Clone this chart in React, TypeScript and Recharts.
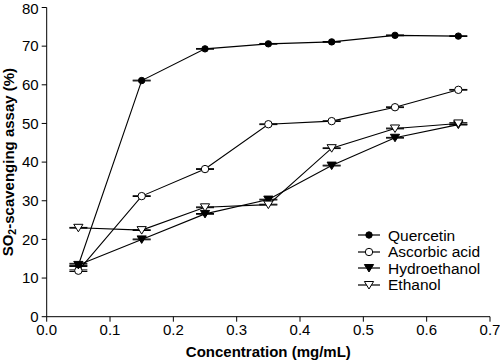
import React from "react";
import { LineChart, Line, XAxis, YAxis, ErrorBar } from "recharts";

const concentrations = [0.05, 0.15, 0.25, 0.35, 0.45, 0.55, 0.65];
const quercetin = [13.3, 61.1, 69.3, 70.6, 71.1, 72.8, 72.6];
const quercetinErr = [0.1, 0.1, 0.1, 0.1, 0.1, 0.1, 0.1];
const ascorbic = [11.9, 31.2, 38.2, 49.8, 50.6, 54.2, 58.7];
const ascorbicErr = [0.2, 0.1, 0.1, 0.1, 0.1, 0.1, 0.1];
const hydroethanol = [13.4, 20.0, 26.6, 30.3, 39.1, 46.3, 49.7];
const hydroethanolErr = [0.4, 0.1, 0.1, 0.1, 0.1, 0.1, 0.1];
const ethanol = [23.0, 22.4, 28.3, 29.0, 43.6, 48.7, 50.0];
const ethanolErr = [0.1, 0.1, 0.1, 0.1, 0.1, 0.1, 0.2];
const xTicks = [0, 0.1, 0.2, 0.3, 0.4, 0.5, 0.6, 0.7];
const yTicks = [0, 10, 20, 30, 40, 50, 60, 70, 80];

const rows = concentrations.map((c, i) => ({
  c,
  q: quercetin[i],
  qe: quercetinErr[i],
  a: ascorbic[i],
  ae: ascorbicErr[i],
  h: hydroethanol[i],
  he: hydroethanolErr[i],
  e: ethanol[i],
  ee: ethanolErr[i],
}));

const FONT = "'Liberation Sans', Arial, sans-serif";

type Kind = "fcircle" | "ocircle" | "ftri" | "otri";

function marker(kind: Kind, cx: number, cy: number, key?: string) {
  if (kind === "fcircle" || kind === "ocircle") {
    return (
      <circle key={key} cx={cx} cy={cy} r={kind === "fcircle" ? 3.2 : 3.7} fill={kind === "fcircle" ? "#000" : "#fff"} stroke="#000" strokeWidth={1} />
    );
  }
  const s = 4.6;
  const pts = `${cx - s},${cy - 3.5} ${cx + s},${cy - 3.5} ${cx},${cy + 4}`;
  return <polygon key={key} points={pts} fill={kind === "ftri" ? "#000" : "#fff"} stroke="#000" strokeWidth={1} />;
}

const dotFor = (kind: Kind) => (props: any) => marker(kind, props.cx, props.cy, `${kind}-${props.index}`);

const series: { key: string; err: string; name: string; kind: Kind }[] = [
  { key: "q", err: "qe", name: "Quercetin", kind: "fcircle" },
  { key: "a", err: "ae", name: "Ascorbic acid", kind: "ocircle" },
  { key: "h", err: "he", name: "Hydroethanol", kind: "ftri" },
  { key: "e", err: "ee", name: "Ethanol", kind: "otri" },
];

function LegendBox() {
  return (
    <div style={{ position: "absolute", left: 357, top: 227, fontFamily: FONT, fontSize: 15.5, color: "#000", lineHeight: 1 }}>
      {series.map((s) => (
        <div key={s.key} style={{ display: "flex", alignItems: "center", height: 16.5 }}>
          <svg width={24} height={14}>
            <line x1={1} y1={7} x2={23} y2={7} stroke="#000" strokeWidth={1.2} />
            {marker(s.kind, 12, 7)}
          </svg>
          <span style={{ marginLeft: 7 }}>{s.name}</span>
        </div>
      ))}
    </div>
  );
}

function YLabel(props: any) {
  const vb = props.viewBox || {};
  const cy = vb.y + vb.height / 2;
  const x = 8;
  return (
    <text
      x={x}
      y={cy}
      transform={`rotate(-90, ${x}, ${cy})`}
      textAnchor="middle"
      dominantBaseline="central"
      fontFamily={FONT}
      fontWeight="bold"
      fontSize={15}
      fill="#000"
    >
      SO<tspan fontSize={10.5} dy={4}>2</tspan>
      <tspan dy={-4}>-scavenging assay (%)</tspan>
    </text>
  );
}

export default function App() {
  return (
    <div style={{ position: "absolute", left: 0, top: 0, width: 500, height: 361, background: "#fff" }}>
      <LineChart width={500} height={361} data={rows} margin={{ top: 7.5, right: 10, bottom: 0, left: 0 }}>
        <XAxis
          dataKey="c"
          type="number"
          domain={[0, 0.7]}
          ticks={xTicks}
          tickFormatter={(v: number) => v.toFixed(1)}
          height={44.3}
          stroke="#000"
          tick={{ fill: "#000", fontSize: 15, fontFamily: FONT }}
          tickSize={5}
          tickMargin={3}
          label={{
            value: "Concentration (mg/mL)",
            position: "insideBottom",
            offset: 4,
            style: { fontFamily: FONT, fontWeight: "bold", fontSize: 15, fill: "#000" },
          }}
        />
        <YAxis
          type="number"
          domain={[0, 80]}
          ticks={yTicks}
          width={46.7}
          stroke="#000"
          tick={{ fill: "#000", fontSize: 15, fontFamily: FONT }}
          tickSize={5}
          tickMargin={3}
          label={<YLabel />}
        />
        {series.map((s) => (
          <Line
            key={s.key}
            dataKey={s.key}
            name={s.name}
            stroke="#000"
            strokeWidth={1.1}
            dot={dotFor(s.kind)}
            activeDot={false}
            isAnimationActive={false}
          >
            <ErrorBar dataKey={s.err} direction="y" width={9} stroke="#000" strokeWidth={1} />
          </Line>
        ))}
      </LineChart>
      <LegendBox />
    </div>
  );
}
